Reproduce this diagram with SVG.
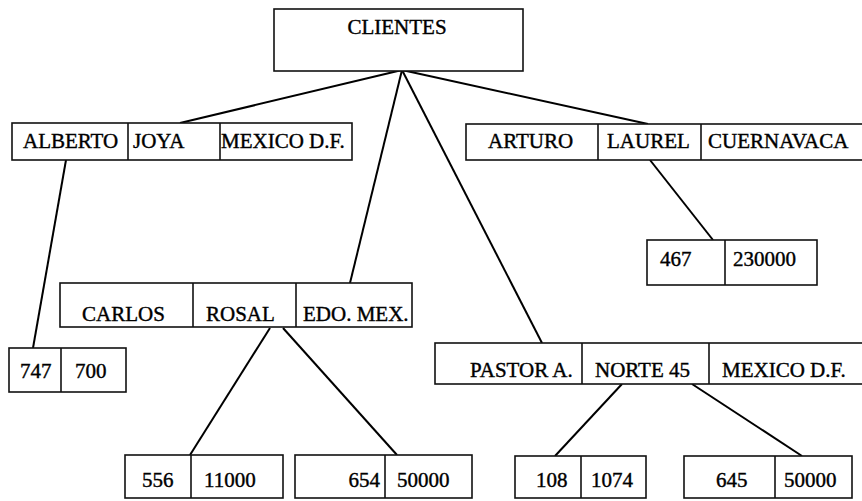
<svg xmlns="http://www.w3.org/2000/svg" width="862" height="501" viewBox="0 0 862 501">
<style>
.box{fill:#fff;stroke:#111;stroke-width:1.6}
.div{stroke:#111;stroke-width:1.6}
.lnk{stroke:#000;stroke-width:2;fill:none}
text{font-family:"Liberation Serif","Times New Roman",serif;font-size:21px;fill:#000;stroke:#000;stroke-width:0.4}
</style>
<rect width="862" height="501" fill="#fff"/>
<g id="connectors">
<line class="lnk" x1="402" y1="70" x2="180" y2="123"/>
<line class="lnk" x1="402" y1="70" x2="350" y2="283"/>
<line class="lnk" x1="402" y1="70" x2="542" y2="343"/>
<line class="lnk" x1="402" y1="70" x2="648" y2="124"/>
<line class="lnk" x1="66" y1="160" x2="33" y2="348"/>
<line class="lnk" x1="650" y1="160" x2="713" y2="240"/>
<line class="lnk" x1="270" y1="328" x2="190" y2="455"/>
<line class="lnk" x1="283" y1="328" x2="397" y2="455"/>
<line class="lnk" x1="622" y1="384" x2="555" y2="456"/>
<line class="lnk" x1="692" y1="384" x2="802" y2="456"/>
</g>
<g id="clientes">
<rect class="box" x="274" y="9" width="249" height="62"/>
<text x="397" y="34" text-anchor="middle">CLIENTES</text>
</g>
<g id="alberto">
<rect class="box" x="12" y="123" width="340" height="37"/>
<line class="div" x1="128" y1="123" x2="128" y2="160"/>
<line class="div" x1="220" y1="123" x2="220" y2="160"/>
<text x="23" y="148">ALBERTO</text>
<text x="133" y="148">JOYA</text>
<text x="221" y="148">MEXICO D.F.</text>
</g>
<g id="arturo">
<rect class="box" x="466" y="124" width="402" height="36"/>
<line class="div" x1="598" y1="124" x2="598" y2="160"/>
<line class="div" x1="701" y1="124" x2="701" y2="160"/>
<text x="488" y="148">ARTURO</text>
<text x="607" y="148">LAUREL</text>
<text x="708" y="148">CUERNAVACA</text>
</g>
<g id="n467">
<rect class="box" x="647" y="240" width="170" height="45"/>
<line class="div" x1="725" y1="240" x2="725" y2="285"/>
<text x="660" y="266">467</text>
<text x="733" y="266">230000</text>
</g>
<g id="carlos">
<rect class="box" x="60" y="283" width="352" height="44"/>
<line class="div" x1="193" y1="283" x2="193" y2="327"/>
<line class="div" x1="296" y1="283" x2="296" y2="327"/>
<text x="82" y="321">CARLOS</text>
<text x="206" y="321">ROSAL</text>
<text x="303" y="321">EDO. MEX.</text>
</g>
<g id="n747">
<rect class="box" x="9" y="348" width="117" height="44"/>
<line class="div" x1="61" y1="348" x2="61" y2="392"/>
<text x="20" y="378">747</text>
<text x="75" y="378">700</text>
</g>
<g id="pastor">
<rect class="box" x="435" y="343" width="431" height="41"/>
<line class="div" x1="582" y1="343" x2="582" y2="384"/>
<line class="div" x1="709" y1="343" x2="709" y2="384"/>
<text x="470" y="377">PASTOR A.</text>
<text x="595" y="377">NORTE 45</text>
<text x="722" y="377">MEXICO D.F.</text>
</g>
<g id="n556">
<rect class="box" x="125" y="455" width="158" height="43"/>
<line class="div" x1="191" y1="455" x2="191" y2="498"/>
<text x="142" y="487">556</text>
<text x="204" y="487">11000</text>
</g>
<g id="n654">
<rect class="box" x="295" y="455" width="177" height="43"/>
<line class="div" x1="385" y1="455" x2="385" y2="498"/>
<text x="380" y="487" text-anchor="end">654</text>
<text x="397" y="487">50000</text>
</g>
<g id="n108">
<rect class="box" x="515" y="456" width="131" height="42"/>
<line class="div" x1="581" y1="456" x2="581" y2="498"/>
<text x="536" y="487">108</text>
<text x="591" y="487">1074</text>
</g>
<g id="n645">
<rect class="box" x="684" y="456" width="168" height="42"/>
<line class="div" x1="775" y1="456" x2="775" y2="498"/>
<text x="716" y="487">645</text>
<text x="784" y="487">50000</text>
</g>
</svg>
